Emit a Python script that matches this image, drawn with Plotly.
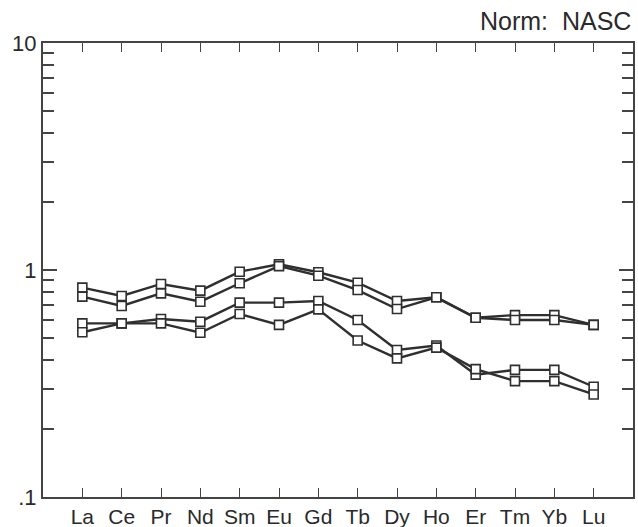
import plotly.graph_objects as go

elements = ["La", "Ce", "Pr", "Nd", "Sm", "Eu", "Gd", "Tb", "Dy", "Ho", "Er", "Tm", "Yb", "Lu"]

sample_a = [0.836, 0.768, 0.868, 0.811, 0.983, 1.060, 0.977, 0.879, 0.730, 0.758, 0.616, 0.633, 0.633, 0.573]
sample_b = [0.763, 0.694, 0.789, 0.725, 0.874, 1.040, 0.944, 0.816, 0.673, 0.758, 0.616, 0.602, 0.602, 0.573]
sample_c = [0.582, 0.582, 0.608, 0.592, 0.718, 0.718, 0.730, 0.602, 0.444, 0.465, 0.346, 0.363, 0.363, 0.306]
sample_d = [0.532, 0.582, 0.582, 0.529, 0.640, 0.573, 0.671, 0.489, 0.408, 0.455, 0.366, 0.324, 0.324, 0.283]

y_tickvals = [0.1, 1, 10]
y_ticktext = [".1", "1", "10"]
y_minor = [0.2, 0.3, 0.4, 0.5, 0.6, 0.7, 0.8, 0.9, 2, 3, 4, 5, 6, 7, 8, 9]

positions = list(range(1, len(elements) + 1))

line_col = "#2f2f2f"
fig = go.Figure()
for s in [sample_a, sample_b, sample_c, sample_d]:
    fig.add_trace(go.Scatter(
        x=positions, y=s, mode="lines+markers",
        line=dict(color=line_col, width=2.4),
        marker=dict(symbol="square", size=9, color="white",
                    line=dict(color=line_col, width=1.6)),
        showlegend=False, hoverinfo="skip"))

axis_col = "#444444"
fig.update_layout(
    width=638, height=527,
    margin=dict(l=43, r=5, t=43, b=30, autoexpand=False),
    paper_bgcolor="white", plot_bgcolor="white",
    font=dict(family="Liberation Sans, Arial, sans-serif", size=22, color="#2a2a2a"),
    xaxis=dict(range=[0, 15], tickmode="array", tickvals=positions, ticktext=elements,
               ticks="inside", ticklen=9, tickwidth=1.3, tickcolor=axis_col,
               showline=True, linecolor=axis_col, linewidth=2, mirror="ticks",
               showgrid=False, zeroline=False, fixedrange=True, automargin=False,
               tickfont=dict(size=21)),
    yaxis=dict(type="log", range=[-1, 1], tickmode="array", tickvals=y_tickvals,
               ticktext=y_ticktext, ticks="inside", ticklen=14, tickwidth=1.6,
               tickcolor=axis_col, showline=True, linecolor=axis_col, linewidth=2,
               mirror="ticks", showgrid=False, zeroline=False, automargin=False,
               fixedrange=True, tickfont=dict(size=22),
               minor=dict(tickmode="array", tickvals=y_minor, ticks="inside",
                          ticklen=11, tickwidth=1.6, tickcolor=axis_col, showgrid=False)),
    annotations=[dict(text="Norm:  NASC", xref="paper", yref="paper", x=1.0, y=1.0,
                      xanchor="right", yanchor="bottom", yshift=6, showarrow=False,
                      font=dict(size=25, color="#2a2a2a"))],
)

fig.write_html("out.html", config={"displayModeBar": False},
               post_script="document.body.style.margin='0';document.body.style.overflow='hidden';")
